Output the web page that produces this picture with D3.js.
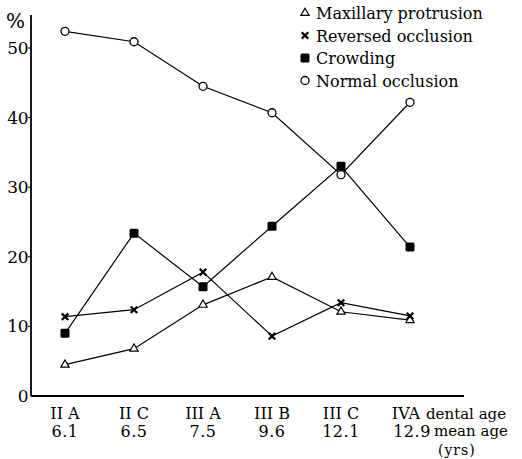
<!DOCTYPE html>
<html>
<head>
<meta charset="utf-8">
<script src="https://cdn.jsdelivr.net/npm/d3@7"></script>
<style>
  body { margin: 0; background: #fff; }
  text { font-family: "DejaVu Serif", "Liberation Serif", serif; fill: #000; }
</style>
</head>
<body>
<svg width="522" height="459"></svg>
<script>
// categories (dental age / mean age)
var stages = ["II A", "II C", "III A", "III B", "III C", "IVA"];
var meanAges = ["6.1", "6.5", "7.5", "9.6", "12.1", "12.9"];
var yTicks = [0, 10, 20, 30, 40, 50];

// series values, %
var maxillary = [4.5, 6.8, 13.1, 17.1, 12.1, 10.9];
var reversed = [11.4, 12.4, 17.8, 8.6, 13.4, 11.5];
var crowding = [9.0, 23.4, 15.7, 24.4, 33.0, 21.4];
var normal = [52.4, 50.9, 44.5, 40.7, 31.8, 42.2];

var series = [
  { name: "Maxillary protrusion", values: maxillary, mark: "triangle" },
  { name: "Reversed occlusion", values: reversed, mark: "cross" },
  { name: "Crowding", values: crowding, mark: "square" },
  { name: "Normal occlusion", values: normal, mark: "circle" }
];

var svg = d3.select("svg");

var x = d3.scalePoint()
    .domain(stages)
    .range([65, 410]);

var y = d3.scaleLinear()
    .domain([0, 50])
    .range([396, 48]);

// axes
svg.append("line")
    .attr("x1", 31).attr("x2", 31)
    .attr("y1", 15).attr("y2", y(0))
    .attr("stroke", "#000").attr("stroke-width", 1.8);
svg.append("line")
    .attr("x1", 31).attr("x2", 464)
    .attr("y1", y(0)).attr("y2", y(0))
    .attr("stroke", "#000").attr("stroke-width", 1.8);

var yg = svg.append("g");
yg.selectAll("line")
  .data(yTicks.slice(1))
  .enter().append("line")
    .attr("x1", 28).attr("x2", 31)
    .attr("y1", function(d) { return y(d); })
    .attr("y2", function(d) { return y(d); })
    .attr("stroke", "#000");
yg.selectAll("text")
  .data(yTicks)
  .enter().append("text")
    .attr("x", 28)
    .attr("y", function(d) { return y(d) + 6; })
    .attr("text-anchor", "end")
    .attr("font-size", 17)
    .attr("letter-spacing", -0.5)
    .text(function(d) { return d; });

svg.append("text")
    .attr("x", 6).attr("y", 28)
    .attr("font-size", 20)
    .text("%");

// x tick labels
var xg = svg.append("g");
xg.selectAll("text.stage")
  .data(stages)
  .enter().append("text")
    .attr("class", "stage")
    .attr("x", function(d, i) { return x(d) - (i === stages.length - 1 ? 4 : 0); })
    .attr("y", 419)
    .attr("text-anchor", "middle")
    .attr("font-size", 16)
    .text(function(d) { return d; });
xg.selectAll("text.age")
  .data(meanAges)
  .enter().append("text")
    .attr("class", "age")
    .attr("x", function(d, i) { return x(stages[i]) + (i === stages.length - 1 ? 2 : 0); })
    .attr("y", 437)
    .attr("text-anchor", "middle")
    .attr("font-size", 16)
    .attr("letter-spacing", 0.5)
    .text(function(d) { return d; });

svg.append("text").attr("x", 426).attr("y", 419).attr("font-size", 15).text("dental age");
svg.append("text").attr("x", 434).attr("y", 436).attr("font-size", 15).text("mean age");
svg.append("text").attr("x", 438).attr("y", 455).attr("font-size", 14).attr("letter-spacing", 1).text("(yrs)");

// markers
function drawMark(g, type, cx, cy) {
  if (type === "triangle") {
    g.append("path")
      .attr("d", d3.symbol().type(d3.symbolTriangle).size(30)())
      .attr("transform", "translate(" + cx + "," + cy + ")")
      .attr("fill", "#fff").attr("stroke", "#000").attr("stroke-width", 1.2);
  } else if (type === "cross") {
    g.append("path")
      .attr("d", d3.symbol().type(d3.symbolX).size(30)())
      .attr("transform", "translate(" + cx + "," + cy + ")")
      .attr("fill", "none").attr("stroke", "#000").attr("stroke-width", 2.2);
  } else if (type === "square") {
    g.append("rect")
      .attr("x", cx - 4.5).attr("y", cy - 4.5)
      .attr("width", 9).attr("height", 9)
      .attr("rx", 1.5)
      .attr("fill", "#000");
  } else {
    g.append("circle")
      .attr("cx", cx).attr("cy", cy).attr("r", 4)
      .attr("fill", "#fff").attr("stroke", "#000").attr("stroke-width", 1.3);
  }
}

var line = d3.line()
    .x(function(d, i) { return x(stages[i]); })
    .y(function(d) { return y(d); });

var lines = svg.append("g");
series.forEach(function(s) {
  lines.append("path")
      .attr("d", line(s.values))
      .attr("fill", "none")
      .attr("stroke", "#000")
      .attr("stroke-width", 1.2);
});
series.forEach(function(s) {
  var g = lines.append("g");
  s.values.forEach(function(v, i) {
    drawMark(g, s.mark, x(stages[i]), y(v));
  });
});

// legend
var legend = svg.append("g");
series.forEach(function(s, i) {
  var ly = 13 + i * 22.5;
  drawMark(legend, s.mark, 305, ly);
  legend.append("text")
      .attr("x", 316)
      .attr("y", ly + 6)
      .attr("font-size", 16)
      .text(s.name);
});
</script>
</body>
</html>
